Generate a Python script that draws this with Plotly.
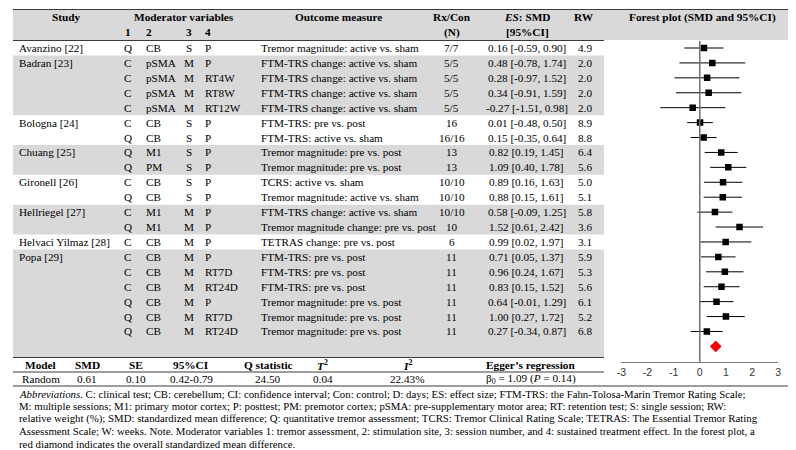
import plotly.graph_objects as go

W, H = 796, 450

# ---------------- data ----------------
studies = ["Avanzino [22]", "Badran [23]", "", "", "", "Bologna [24]", "", "Chuang [25]", "",
           "Gironell [26]", "", "Hellriegel [27]", "", "Helvaci Yilmaz [28]", "Popa [29]", "", "", "", "", ""]
mod1 = ["Q", "C", "C", "C", "C", "C", "Q", "Q", "Q", "C", "Q", "C", "Q", "C", "C", "C", "C", "Q", "Q", "Q"]
mod2 = ["CB", "pSMA", "pSMA", "pSMA", "pSMA", "CB", "CB", "M1", "PM", "CB", "CB", "M1", "M1", "CB",
        "CB", "CB", "CB", "CB", "CB", "CB"]
mod3 = ["S", "M", "M", "M", "M", "S", "S", "S", "S", "S", "S", "M", "M", "M", "M", "M", "M", "M", "M", "M"]
mod4 = ["P", "P", "RT4W", "RT8W", "RT12W", "P", "P", "P", "P", "P", "P", "P", "P", "P",
        "P", "RT7D", "RT24D", "P", "RT7D", "RT24D"]
outcome = ["Tremor magnitude: active vs. sham",
           "FTM-TRS change: active vs. sham", "FTM-TRS change: active vs. sham",
           "FTM-TRS change: active vs. sham", "FTM-TRS change: active vs. sham",
           "FTM-TRS: pre vs. post", "FTM-TRS: active vs. sham",
           "Tremor magnitude: pre vs. post", "Tremor magnitude: pre vs. post",
           "TCRS: active vs. sham", "Tremor magnitude: active vs. sham",
           "FTM-TRS change: active vs. sham", "Tremor magnitude change: pre vs. post",
           "TETRAS change: pre vs. post",
           "FTM-TRS: pre vs. post", "FTM-TRS: pre vs. post", "FTM-TRS: pre vs. post",
           "Tremor magnitude: pre vs. post", "Tremor magnitude: pre vs. post", "Tremor magnitude: pre vs. post"]
rxcon = ["7/7", "5/5", "5/5", "5/5", "5/5", "16", "16/16", "13", "13", "10/10", "10/10", "10/10", "10",
         "6", "11", "11", "11", "11", "11", "11"]
smd = [0.16, 0.48, 0.28, 0.34, -0.27, 0.01, 0.15, 0.82, 1.09, 0.89, 0.88, 0.58, 1.52, 0.99,
       0.71, 0.96, 0.83, 0.64, 1.00, 0.27]
ci_lo = [-0.59, -0.78, -0.97, -0.91, -1.51, -0.48, -0.35, 0.19, 0.40, 0.16, 0.15, -0.09, 0.61, 0.02,
         0.05, 0.24, 0.15, -0.01, 0.27, -0.34]
ci_hi = [0.90, 1.74, 1.52, 1.59, 0.98, 0.50, 0.64, 1.45, 1.78, 1.63, 1.61, 1.25, 2.42, 1.97,
         1.37, 1.67, 1.52, 1.29, 1.72, 0.87]
rw = [4.9, 2.0, 2.0, 2.0, 2.0, 8.9, 8.8, 6.4, 5.6, 5.0, 5.1, 5.8, 3.6, 3.1, 5.9, 5.3, 5.6, 6.1, 5.2, 6.8]

pooled_smd = 0.61
x_ticks = [-3, -2, -1, 0, 1, 2, 3]
x_tick_labels = ["-3", "-2", "-1", "0", "1", "2", "3"]

model_headers = ["Model", "SMD", "SE", "95%CI", "Q statistic", "<i>T</i><sup>2</sup>", "<i>I</i><sup>2</sup>",
                 "Egger\u2019s regression"]
model_values = ["Random", "0.61", "0.10", "0.42-0.79", "24.50", "0.04", "22.43%",
                "\u03b2<sub>0</sub> = 1.09 (<i>P</i> = 0.14)"]

notes = [
    "<i>Abbreviations</i>. C: clinical test; CB: cerebellum; CI: confidence interval; Con: control; D: days; ES: effect size; FTM-TRS: the Fahn-Tolosa-Marin Tremor Rating Scale;",
    "M: multiple sessions; M1: primary motor cortex; P: posttest; PM: premotor cortex; pSMA: pre-supplementary motor area; RT: retention test; S: single session; RW:",
    "relative weight (%); SMD: standardized mean difference; Q: quantitative tremor assessment; TCRS: Tremor Clinical Rating Scale; TETRAS: The Essential Tremor Rating",
    "Assessment Scale; W: weeks. Note. Moderator variables 1: tremor assessment, 2: stimulation site, 3: session number, and 4: sustained treatment effect. In the forest plot, a",
    "red diamond indicates the overall standardized mean difference.",
]

# ---------------- layout constants (pixels) ----------------
ROW0, DY = 40.0, 14.92
TABLE_R = 597
GRAY = "#d9d9d9"
LINE = "#3a3a3a"
SERIF = "Liberation Serif"
FS = 11.2
FSH = 11.3
FSN = 10.8

def px(x):
    return x / W

def py(y):
    return 1 - y / H

def row_y(i):
    return ROW0 + DY * i

annotations = []
shapes = []

def ann(x, y, text, anchor="left", size=FS, bold=False, family=SERIF, color="#000"):
    if bold:
        text = "<b>" + text + "</b>"
    annotations.append(dict(x=px(x), y=py(y), xref="paper", yref="paper", text=text,
                            xanchor=anchor, yanchor="middle", showarrow=False,
                            font=dict(family=family, size=size, color=color)))

def rect(x0, y0, x1, y1, color):
    shapes.append(dict(type="rect", xref="paper", yref="paper", x0=px(x0), x1=px(x1),
                       y0=py(y1), y1=py(y0), fillcolor=color, line=dict(width=0), layer="below"))

def hline(x0, x1, y, width=1, color=LINE):
    shapes.append(dict(type="line", xref="paper", yref="paper", x0=px(x0), x1=px(x1),
                       y0=py(y), y1=py(y), line=dict(color=color, width=width)))

# header background
rect(0, 1.5, W, 32, GRAY)

# group shading
n = len(studies)
group = -1
group_of = []
for s in studies:
    if s:
        group += 1
    group_of.append(group)
i = 0
while i < n:
    g = group_of[i]
    j = i
    while j + 1 < n and group_of[j + 1] == g:
        j += 1
    if g % 2 == 1:
        top = row_y(i) - DY / 2
        bot = row_y(j) + DY / 2
        if j == n - 1:
            bot = 349
        rect(0, top, TABLE_R, bot, GRAY)
    i = j + 1

# lines
hline(0, W, 1.5, 1.2)
hline(0, TABLE_R, 32.5, 1)
hline(0, TABLE_R, 349.5, 1.2)
hline(0, TABLE_R, 364, 1)
hline(0, W, 378, 1.2)

# headers
ann(54, 9, "Study", "center", FSH, True)
ann(173, 9, "Moderator variables", "center", FSH, True)
ann(329, 9, "Outcome measure", "center", FSH, True)
ann(443, 9, "Rx/Con", "center", FSH, True)
ann(520, 9, "<i>ES</i>: SMD", "center", FSH, True)
ann(577, 9, "RW", "center", FSH, True)
ann(696, 9, "Forest plot (SMD and 95%CI)", "center", FSH, True)
ann(116, 24, "1", "center", FSH, True)
ann(132, 24, "2", "left", FSH, True)
ann(178, 24, "3", "center", FSH, True)
ann(192, 24, "4", "left", FSH, True)
ann(443, 24, "(N)", "center", FSH, True)
ann(520, 24, "[95%CI]", "center", FSH, True)

# table rows
for k in range(n):
    y = row_y(k)
    if studies[k]:
        ann(4, y, studies[k], "left")
    ann(116, y, mod1[k], "center")
    ann(132, y, mod2[k], "left")
    ann(178, y, mod3[k], "center")
    ann(192, y, mod4[k], "left")
    ann(248, y, outcome[k], "left")
    ann(443, y, rxcon[k], "center")
    ann(519, y, f"{smd[k]:.2f} [{ci_lo[k]:.2f}, {ci_hi[k]:.2f}]", "center")
    ann(578, y, f"{rw[k]:.1f}", "center")

# model summary
mx = [28, 75, 124, 180, 258, 313, 398, 523]
for x, h, v in zip(mx, model_headers, model_values):
    ann(x, 357, h, "center", FSH, True)
    ann(x, 371, v, "center")

# notes
for k, t in enumerate(notes):
    ann(4, 385.5 + 12.6 * k, t, "left", FSN)

# ---------------- forest plot ----------------
AX_L, AX_R, AX_TOP, AX_BOT = 614.5, 773.0, 33.0, 354.0
y_top = (AX_TOP - ROW0) / DY
y_bot = (AX_BOT - ROW0) / DY
rows = list(range(n))

fig = go.Figure()
fig.add_trace(go.Scatter(
    x=smd, y=rows, mode="markers",
    marker=dict(symbol="square", size=6.5, color="#000"),
    error_x=dict(type="data", symmetric=False,
                 array=[h - m for h, m in zip(ci_hi, smd)],
                 arrayminus=[m - l for m, l in zip(smd, ci_lo)],
                 width=0, thickness=1, color="#000"),
    showlegend=False, hoverinfo="skip"))
fig.add_trace(go.Scatter(
    x=[pooled_smd], y=[n], mode="markers",
    marker=dict(symbol="diamond", size=9, color="#ff0000"),
    showlegend=False, hoverinfo="skip"))

shapes.append(dict(type="line", xref="x", yref="y domain", x0=0, x1=0, y0=0, y1=1,
                   line=dict(color="#707070", width=1.5)))

fig.update_layout(
    width=W, height=H, margin=dict(l=0, r=0, t=0, b=0),
    paper_bgcolor="white", plot_bgcolor="rgba(0,0,0,0)",
    shapes=shapes, annotations=annotations,
    xaxis=dict(domain=[px(AX_L), px(AX_R)], range=[-3, 3], tickvals=x_ticks, ticktext=x_tick_labels,
               showgrid=False, zeroline=False, showline=True, linecolor="#7a7a7a", linewidth=1.2,
               ticks="", tickfont=dict(family="Liberation Sans", size=10.5, color="#333"),
               fixedrange=True),
    yaxis=dict(domain=[py(AX_BOT), py(AX_TOP)], range=[y_bot, y_top], visible=False,
               showgrid=False, zeroline=False, fixedrange=True),
)

fig.write_html("out.html")
